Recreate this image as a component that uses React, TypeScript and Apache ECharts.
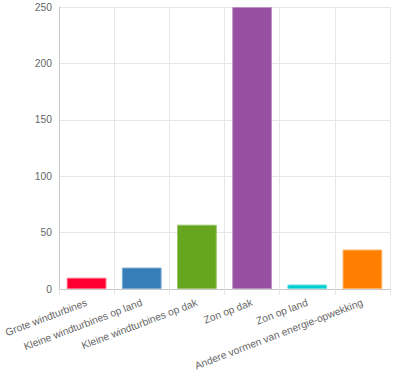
import React, { useEffect, useRef } from "react";
import * as echarts from "echarts";

const categories = [
  "Grote windturbines",
  "Kleine windturbines op land",
  "Kleine windturbines op dak",
  "Zon op dak",
  "Zon op land",
  "Andere vormen van energie-opwekking",
];
const values = [10, 19, 57, 250, 4, 35];
const barColors = ["#ff0033", "#377eb8", "#66a61e", "#984ea3", "#00ced1", "#ff7f00"];
const borderColors = ["#ff6680", "#7aa9d2", "#99c266", "#b98fc0", "#66e0e3", "#ffb266"];
const yTicks = { min: 0, max: 250, interval: 50 };

export default function App() {
  const ref = useRef<HTMLDivElement>(null);
  useEffect(() => {
    if (!ref.current) return;
    const chart = echarts.init(ref.current, undefined, { renderer: "svg" });
    const font = "'Helvetica Neue', Helvetica, Arial, 'Liberation Sans', sans-serif";
    chart.setOption({
      animation: false,
      grid: { left: 59, right: 9, top: 7, bottom: 88, containLabel: false, outerBoundsMode: "none" },
      xAxis: {
        type: "category",
        data: categories,
        axisLine: { lineStyle: { color: "#c8c8c8", width: 1 } },
        axisTick: { show: true, length: 6, lineStyle: { color: "#e6e6e6" } },
        splitLine: { show: true, lineStyle: { color: "#e6e6e6", width: 1 } },
        axisLabel: {
          rotate: 21,
          interval: 0,
          margin: 13,
          color: "#666",
          fontSize: 10.3,
          fontFamily: font,
        },
      },
      yAxis: {
        type: "value",
        min: yTicks.min,
        max: yTicks.max,
        interval: yTicks.interval,
        axisLine: { show: true, lineStyle: { color: "#c8c8c8", width: 1 } },
        axisTick: { show: false },
        splitLine: { show: true, lineStyle: { color: "#e6e6e6", width: 1 } },
        axisLabel: { color: "#666", fontSize: 10.3, fontFamily: font, margin: 7 },
      },
      series: [
        {
          type: "bar",
          barWidth: "72%",
          data: values.map((v, i) => ({
            value: v,
            itemStyle: { color: barColors[i], borderColor: borderColors[i], borderWidth: 1 },
          })),
        },
      ],
    });
    return () => chart.dispose();
  }, []);
  return <div ref={ref} style={{ width: 399, height: 377, position: "absolute", left: 0, top: 0 }} />;
}
